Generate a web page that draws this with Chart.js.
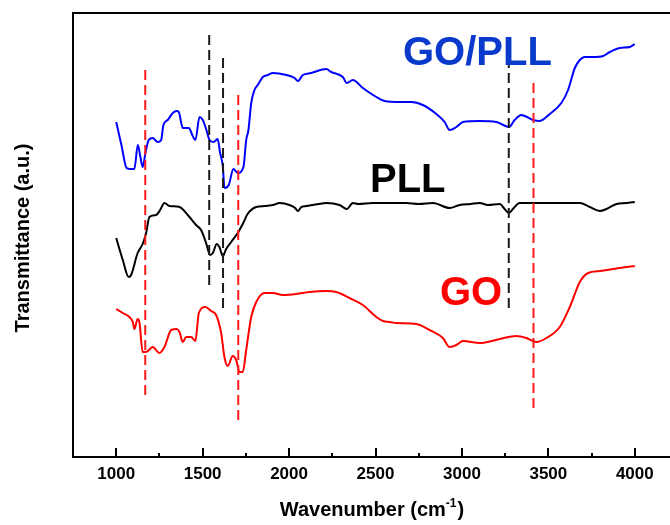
<!DOCTYPE html>
<html><head><meta charset="utf-8">
<script src="https://cdn.jsdelivr.net/npm/chart.js@4.4.1/dist/chart.umd.min.js"></script>
<style>html,body{margin:0;padding:0;overflow:hidden;background:#fff;width:670px;height:525px}canvas{display:block}</style>
</head><body>
<canvas id="c" width="700" height="525"></canvas>
<script>
// Wavenumbers (cm-1) and transmittance (arbitrary units, offset per curve)
const goPllWn = [1000,1030,1060,1080,1105,1125,1140,1153,1170,1188,1211,1240,1260,1273,1298,1327,1350,1362,1385,1420,1440,1458,1482,1501,1520,1540,1563,1587,1600,1617,1626,1651,1678,1703,1736,1752,1765,1781,1800,1819,1848,1877,1906,1984,2032,2051,2080,2128,2215,2244,2311,2334,2369,2427,2505,2553,2640,2707,2774,2852,2900,2929,2968,3006,3103,3199,3272,3305,3344,3411,3450,3508,3575,3614,3653,3682,3711,3759,3817,3855,3913,3971,4000];
const goPllT  = [335,312,289,288,288,312,300,290,305,317,319,315,317,332,337,344,346,345,329,329,322,317,340,337,328,317,315,318,305,290,269,272,288,284,290,317,327,354,367,372,380,382,384,382,379,376,382,384,388,385,380,374,377,369,360,356,355,355,352,343,335,327,330,335,336,335,330,337,342,337,336,343,354,367,389,397,400,400,401,405,409,410,413];

const pllWn = [1000,1038,1072,1086,1124,1153,1173,1192,1231,1254,1279,1308,1366,1414,1462,1491,1520,1543,1559,1582,1597,1617,1636,1665,1703,1735,1760,1810,1860,1906,1945,2003,2035,2051,2071,2100,2138,2170,2215,2292,2334,2369,2400,2485,2600,2678,2750,2832,2929,2987,3050,3103,3150,3219,3247,3272,3295,3334,3450,3566,3682,3740,3798,3836,3894,3952,4000];
const pllT  = [219,197,180,182,204,213,224,240,242,247,254,251,250,242,232,227,214,202,204,213,210,201,208,215,224,234,243,250,251,252,254,252,249,246,250,251,252,253,254,252,248,254,253,254,254,254,253,254,249,252,253,254,252,253,248,244,248,254,254,254,254,250,246,248,253,254,255];

const goWn = [1000,1038,1076,1096,1105,1124,1134,1153,1173,1211,1250,1279,1318,1350,1366,1385,1405,1433,1458,1478,1516,1549,1578,1607,1626,1645,1674,1694,1713,1732,1752,1781,1810,1858,1906,1964,2041,2118,2215,2273,2350,2427,2505,2543,2582,2620,2736,2813,2890,2929,2968,3006,3103,3219,3315,3373,3431,3489,3566,3624,3682,3730,3798,3875,3952,4000];
const goT  = [148,144,140,135,128,138,135,105,105,110,104,110,127,128,125,115,120,120,116,144,150,146,142,124,100,91,101,97,85,85,107,140,155,164,164,162,163,165,166,165,159,152,140,136,135,134,133,127,119,110,112,116,114,118,121,119,115,119,130,150,175,184,186,188,190,191];

// Marker lines: wavenumber, lower and upper extent (same units)
const redMarkWn = [1168, 1706, 3414];
const redMarkLo = [62, 37, 49];
const redMarkHi = [389, 365, 377];
const blackMarkWn = [1538, 1618, 3271];
const blackMarkLo = [172, 149, 149];
const blackMarkHi = [427, 402, 402];

const majorTicks = [1000,1500,2000,2500,3000,3500,4000];
const minorTicks = [1250,1750,2250,2750,3250,3750];

// Curve labels: text, wavenumber of left edge, baseline value
const labelText = ["GO/PLL","PLL","GO"];
const labelWn = [2659, 2468, 2873];
const labelY = [392, 265, 152];
const labelColor = ["#0a3acc","#000000","#ff0000"];

const xMin = 750, xMax = 4250, yMin = 0, yMax = 444;

function pts(wn, t){ return wn.map((w,i)=>({x:w,y:t[i]})); }

const datasets = [];
function markerSets(wn, lo, hi, color){
  wn.forEach((w,i)=>{
    datasets.push({data:[{x:w,y:lo[i]},{x:w,y:hi[i]}], borderColor:color, borderWidth:2, borderDash:[10,5], pointRadius:0, fill:false, tension:0});
  });
}
markerSets(redMarkWn, redMarkLo, redMarkHi, "#ff1a1a");
markerSets(blackMarkWn, blackMarkLo, blackMarkHi, "#1a1a1a");
datasets.push({data:pts(goPllWn,goPllT), borderColor:"#0000ff", borderWidth:2, pointRadius:0, fill:false, cubicInterpolationMode:'monotone'});
datasets.push({data:pts(pllWn,pllT), borderColor:"#000000", borderWidth:2, pointRadius:0, fill:false, cubicInterpolationMode:'monotone'});
datasets.push({data:pts(goWn,goT), borderColor:"#ff0000", borderWidth:2, pointRadius:0, fill:false, cubicInterpolationMode:'monotone'});

const FONT = "'Liberation Sans', Arial, sans-serif";

const decor = {
  id:'decor',
  afterDraw(chart){
    const ctx = chart.ctx, a = chart.chartArea, xs = chart.scales.x, ys = chart.scales.y;
    ctx.save();
    // frame
    ctx.strokeStyle = '#000'; ctx.lineWidth = 2;
    ctx.strokeRect(a.left, a.top, a.right - a.left, a.bottom - a.top);
    // inward ticks
    ctx.lineWidth = 2;
    ctx.beginPath();
    majorTicks.forEach(v=>{ const px = Math.round(xs.getPixelForValue(v)); ctx.moveTo(px, a.bottom); ctx.lineTo(px, a.bottom - 9); });
    minorTicks.forEach(v=>{ const px = Math.round(xs.getPixelForValue(v)); ctx.moveTo(px, a.bottom); ctx.lineTo(px, a.bottom - 4); });
    ctx.stroke();
    // curve labels
    ctx.font = "bold 40px " + FONT;
    ctx.textBaseline = 'alphabetic'; ctx.textAlign = 'left';
    labelText.forEach((t,i)=>{
      ctx.fillStyle = labelColor[i];
      ctx.fillText(t, xs.getPixelForValue(labelWn[i]), ys.getPixelForValue(labelY[i]));
    });
    // axis titles
    ctx.fillStyle = '#000';
    ctx.font = "bold 20px " + FONT;
    const main = "Wavenumber (cm", sup = "-1", close = ")";
    const wMain = ctx.measureText(main).width;
    ctx.font = "bold 12px " + FONT;
    const wSup = ctx.measureText(sup).width;
    ctx.font = "bold 20px " + FONT;
    const wClose = ctx.measureText(close).width;
    const total = wMain + wSup + wClose + 1;
    let x0 = 372 - total/2, base = 516;
    ctx.fillText(main, x0, base);
    ctx.font = "bold 12px " + FONT;
    ctx.fillText(sup, x0 + wMain, base - 9);
    ctx.font = "bold 20px " + FONT;
    ctx.fillText(close, x0 + wMain + wSup + 1, base);
    // y title
    ctx.translate(29, 238);
    ctx.rotate(-Math.PI/2);
    ctx.textAlign = 'center';
    ctx.fillText("Transmittance (a.u.)", 0, 0);
    ctx.restore();
  }
};

new Chart(document.getElementById('c'), {
  type:'line',
  data:{datasets},
  options:{
    responsive:false, animation:false,
    layout:{padding:{left:73, top:13, right:22, bottom:0}},
    plugins:{legend:{display:false}, tooltip:{enabled:false}},
    scales:{
      x:{type:'linear', min:xMin, max:xMax,
         grid:{display:false, drawTicks:false}, border:{display:false},
         afterBuildTicks(s){ s.ticks = majorTicks.map(v=>({value:v})); },
         afterFit(s){ s.height = 68; },
         ticks:{padding:7, color:'#000', font:{family:FONT, weight:'bold', size:17}, maxRotation:0, autoSkip:false,
                callback:(v)=>String(v)}
      },
      y:{type:'linear', min:yMin, max:yMax, display:false}
    }
  },
  plugins:[decor]
});
</script>
</body></html>
